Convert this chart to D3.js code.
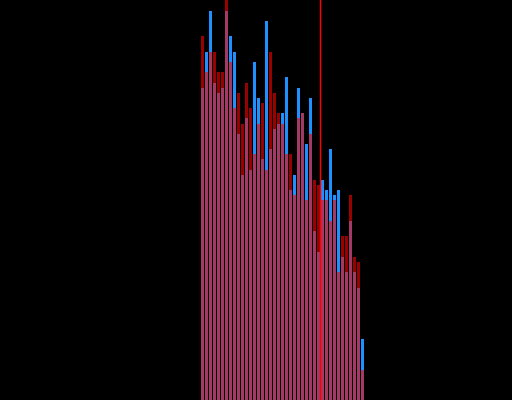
<!DOCTYPE html>
<html>
<head>
<meta charset="utf-8">
<script src="https://cdn.jsdelivr.net/npm/d3@7"></script>
<style>
  html, body { margin: 0; padding: 0; background: #000; }
  svg { display: block; }
</style>
</head>
<body>
<div id="chart"></div>
<script>
var w = 512;
var h = 400;

// one entry per bar
var categories = d3.range(1, 42);
var blueValues = [312, 348, 389, 317, 307, 312, 389, 364, 348, 266,
                  225, 282, 230, 338, 302, 241, 379, 251, 271, 276,
                  287, 323, 210, 225, 312, 287, 256, 302, 169, 148,
                  220, 210, 251, 205, 210, 143, 128, 179, 128, 112,
                  61];
var redValues  = [364, 328, 348, 348, 328, 328, 400, 338, 292, 307,
                  276, 317, 292, 246, 276, 297, 230, 348, 307, 287,
                  276, 246, 246, 205, 282, 287, 200, 266, 220, 215,
                  200, 200, 179, 200, 128, 164, 164, 205, 143, 138,
                  30];
// marker sits between these two categories
var markerAfter = 30;

var svg = d3.select("#chart")
  .append("svg")
  .attr("width", w)
  .attr("height", h);

svg.append("rect")
  .attr("width", w)
  .attr("height", h)
  .attr("fill", "#000");

var x = d3.scaleBand()
  .domain(categories)
  .range([200.5, 364.5])
  .paddingInner(0.25)
  .paddingOuter(0.125);

var y = d3.scaleLinear()
  .domain([0, 400])
  .range([h, 0]);

var blue = svg.append("g").attr("class", "blue");
blue.selectAll("rect")
  .data(blueValues)
  .enter()
  .append("rect")
  .attr("x", function(d, i) { return x(categories[i]); })
  .attr("y", function(d) { return y(d); })
  .attr("width", x.bandwidth())
  .attr("height", function(d) { return h - y(d); })
  .attr("fill", "#1e90ff");

var red = svg.append("g").attr("class", "red");
red.selectAll("rect")
  .data(redValues)
  .enter()
  .append("rect")
  .attr("x", function(d, i) { return x(categories[i]); })
  .attr("y", function(d) { return y(d); })
  .attr("width", x.bandwidth())
  .attr("height", function(d) { return h - y(d); })
  .attr("fill", "#ff0000")
  .attr("fill-opacity", 0.6);

var mx = x(markerAfter) + x.bandwidth() + (x.step() - x.bandwidth()) / 2;
svg.append("line")
  .attr("x1", mx)
  .attr("x2", mx)
  .attr("y1", 0)
  .attr("y2", h)
  .attr("stroke", "#ff0000")
  .attr("stroke-width", 1.5);
</script>
</body>
</html>
